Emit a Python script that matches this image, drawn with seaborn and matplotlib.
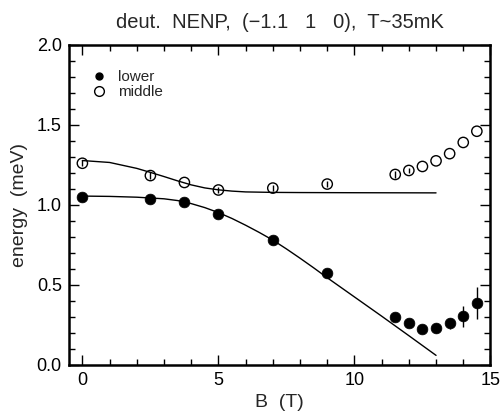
import matplotlib
matplotlib.use("Agg")
import matplotlib.pyplot as plt
import seaborn as sns
import pandas as pd
import numpy as np
from matplotlib.ticker import MultipleLocator
from matplotlib.lines import Line2D

sns.set_theme(style="ticks")
plt.rcParams['font.family'] = ['Liberation Sans', 'DejaVu Sans']

# data points
B_lower = [0, 2.5, 3.75, 5, 7, 9, 11.5, 12, 12.5, 13, 13.5, 14, 14.5]
E_lower = [1.05, 1.035, 1.02, 0.94, 0.78, 0.575, 0.30, 0.26, 0.225, 0.23, 0.26, 0.305, 0.39]
err_lower = [0.0, 0.0, 0.0, 0.0, 0.0, 0.0, 0.0, 0.0, 0.0, 0.03, 0.035, 0.065, 0.10]

B_middle = [0, 2.5, 3.75, 5, 7, 9, 11.5, 12, 12.5, 13, 13.5, 14, 14.5]
E_middle = [1.26, 1.183, 1.14, 1.093, 1.105, 1.13, 1.19, 1.215, 1.24, 1.275, 1.32, 1.39, 1.46]
err_middle = [0.02, 0.02, 0.0, 0.02, 0.02, 0.02, 0.02, 0.015, 0.0, 0.0, 0.0, 0.0, 0.0]

# fitted curves
B_fit_lower = [0, 1, 2, 3, 3.5, 4, 4.5, 5, 5.5, 6, 6.5, 7, 7.5, 8, 8.5, 9, 10, 11, 12, 13]
E_fit_lower = [1.055, 1.053, 1.048, 1.038, 1.027, 1.008, 0.983, 0.952, 0.915, 0.873, 0.828, 0.78, 0.725, 0.667, 0.607, 0.545, 0.425, 0.305, 0.183, 0.06]

B_fit_middle = [0, 1, 2, 2.5, 3, 3.5, 4, 4.5, 5, 5.5, 6, 7, 8, 10, 13]
E_fit_middle = [1.277, 1.265, 1.228, 1.203, 1.177, 1.15, 1.125, 1.106, 1.094, 1.086, 1.081, 1.078, 1.077, 1.076, 1.075]

df_l = pd.DataFrame({"B": B_lower, "E": E_lower, "err": err_lower})
df_m = pd.DataFrame({"B": B_middle, "E": E_middle, "err": err_middle})
df_fl = pd.DataFrame({"B": B_fit_lower, "E": E_fit_lower})
df_fm = pd.DataFrame({"B": B_fit_middle, "E": E_fit_middle})

fig = plt.figure(figsize=(5.02, 4.11), dpi=100)
ax = fig.add_axes([0.137, 0.112, 0.840, 0.779])

sns.lineplot(data=df_fl, x="B", y="E", ax=ax, color="black", lw=1.0, sort=False, estimator=None)
sns.lineplot(data=df_fm, x="B", y="E", ax=ax, color="black", lw=1.0, sort=False, estimator=None)

ax.errorbar(df_l["B"], df_l["E"], yerr=df_l["err"], fmt="none", ecolor="black", elinewidth=1.0, capsize=0)
ax.errorbar(df_m["B"], df_m["E"], yerr=df_m["err"], fmt="none", ecolor="black", elinewidth=1.0, capsize=0)

sns.scatterplot(data=df_l, x="B", y="E", ax=ax, color="black", s=60, edgecolor="black", linewidth=0.5, zorder=3)
sns.scatterplot(data=df_m, x="B", y="E", ax=ax, facecolor="none", s=55, edgecolor="black", linewidth=1.0, zorder=3)

ax.set_xlim(-0.5, 15.0)
ax.set_ylim(0.0, 2.0)
ax.xaxis.set_major_locator(MultipleLocator(5))
ax.xaxis.set_minor_locator(MultipleLocator(1))
ax.yaxis.set_major_locator(MultipleLocator(0.5))
ax.yaxis.set_minor_locator(MultipleLocator(0.1))
ax.tick_params(which="both", direction="in", top=True, right=True, width=1.0, colors="black", labelsize=13)
ax.tick_params(which="major", length=7, pad=5)
ax.tick_params(which="minor", length=4)
ax.yaxis.set_major_formatter(matplotlib.ticker.FormatStrFormatter("%.1f"))
for sp in ax.spines.values():
    sp.set_linewidth(1.8)
    sp.set_color("black")

ax.set_xlabel("B  (T)", fontsize=14, labelpad=4)
ax.set_ylabel("energy  (meV)", fontsize=14, labelpad=6)
ax.set_title("deut.  NENP,  (\u22121.1   1   0),  T~35mK", fontsize=14.5, pad=12)

handles = [
    Line2D([], [], marker="o", ls="none", color="black", markersize=5),
    Line2D([], [], marker="o", ls="none", markerfacecolor="none", markeredgecolor="black", markersize=7),
]
ax.legend(handles, ["lower", "middle"], loc="upper left", frameon=False, fontsize=11,
          handletextpad=0.3, labelspacing=0.05, borderaxespad=0.0, bbox_to_anchor=(0.02, 0.94))

fig.savefig("out.png", dpi=100)
